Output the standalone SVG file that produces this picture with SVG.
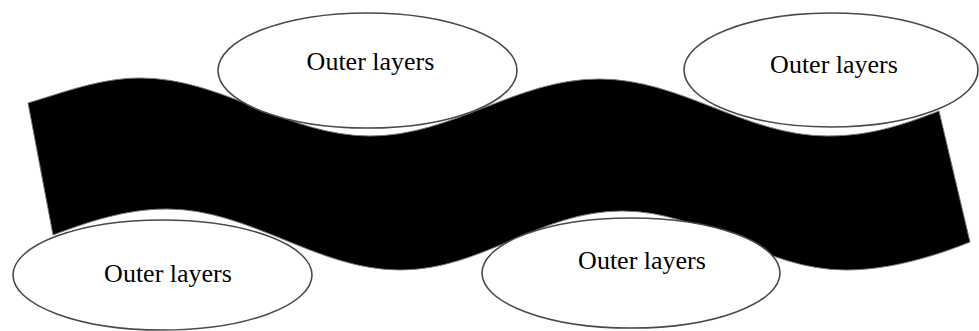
<svg xmlns="http://www.w3.org/2000/svg" width="979" height="331" viewBox="0 0 979 331">
<style>
.node ellipse{fill:#fff;stroke:#4a4a4a;stroke-width:1.6}
.node text{font-family:"Liberation Serif","Times New Roman",serif;font-size:26px;fill:#000;text-anchor:middle}
.band{fill:#000;stroke:#777;stroke-width:1}
</style>
<rect width="979" height="331" fill="#fff"/>
<g id="band">
<path class="band" d="M28,103 C62,93 100,78 140,78 C223,78 287,136 370,136 C453,136 516,79 599,79 C682,79 745,136 828,136 C872,136 905,124 939,111 L970,242 C935,256 890,270 846,270 C763,270 705,211 622,211 C539,211 483,270 400,270 C317,270 250,209 167,209 C125,209 88,222 53,235 Z"/>
</g>
<g id="node-top-left" class="node">
<ellipse cx="367.5" cy="70.5" rx="149.5" ry="57.5"/>
<text x="370.5" y="70">Outer layers</text>
</g>
<g id="node-top-right" class="node">
<ellipse cx="831" cy="70" rx="147" ry="57"/>
<text x="834" y="73">Outer layers</text>
</g>
<g id="node-bottom-left" class="node">
<ellipse cx="162.5" cy="275" rx="149.5" ry="55"/>
<text x="168" y="282">Outer layers</text>
</g>
<g id="node-bottom-right" class="node">
<ellipse cx="631" cy="273" rx="149" ry="55"/>
<text x="642" y="269">Outer layers</text>
</g>
</svg>
